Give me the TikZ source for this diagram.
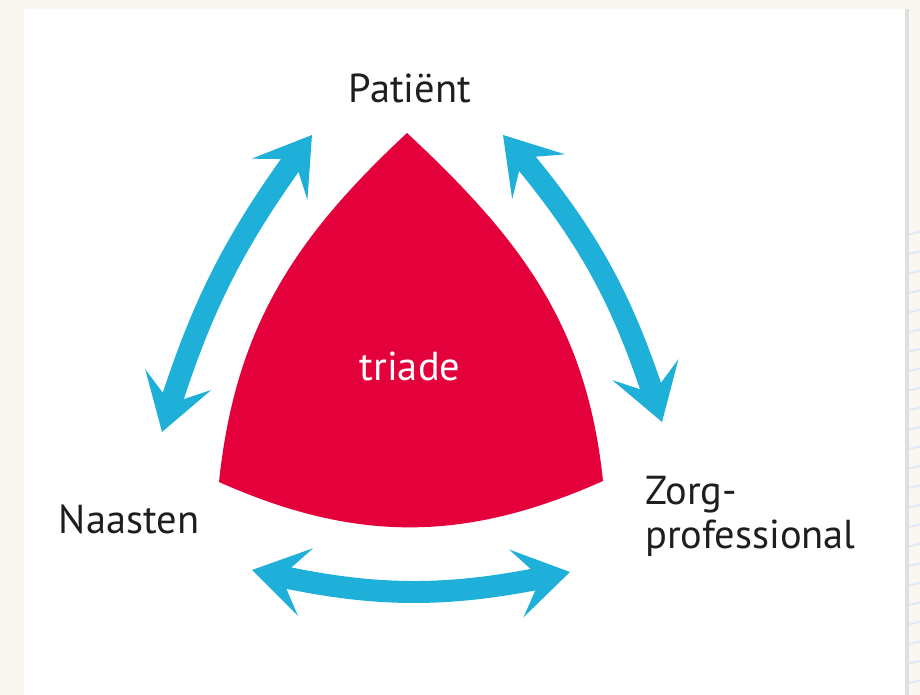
\documentclass[tikz,border=0pt]{standalone}
\usepackage{fontspec}
\setmainfont{PT Sans}
\usetikzlibrary{arrows.meta,bending}
\definecolor{cream}{RGB}{250,247,241}
\definecolor{triblue}{RGB}{30,176,216}
\definecolor{trired}{RGB}{228,0,58}
\definecolor{faintblue}{RGB}{226,233,246}
\definecolor{ink}{RGB}{30,30,30}

\begin{document}
\begin{tikzpicture}[x=0.02cm, y=0.02cm,
	lbl/.style={text=ink, font=\fontsize{23}{25}\selectfont, inner sep=0pt},
	duo/.style={triblue, line width=12.5pt,
		{Stealth[length=31pt,width=39pt,inset=14pt]}-{Stealth[length=31pt,width=39pt,inset=14pt]}}]
	\useasboundingbox (0,0) rectangle (920,695);
	\fill[cream] (0,0) rectangle (920,695);
	\foreach \k in {0,...,23}
		\draw[faintblue, line width=1.2pt] (906,460-19.5*\k) -- (920,463-19.5*\k);
	\fill[gray!25] (905,0) rectangle (909,686);
	\fill[white] (24,0) rectangle (905,686);
	\coordinate (apex) at (407,562);
	\coordinate (left) at (219,213);
	\coordinate (right) at (603,214);
	\fill[trired] (apex) to[out=223,in=84] (left) to[out=-24,in=204] (right) to[out=96,in=317] (apex) -- cycle;
	\node[lbl] (pat) at (410,607) {Patiënt};
	\node[lbl, text=white] (tri) at (410,329) {triade};
	\node[lbl] (naa) at (129,176) {Naasten};
	\node[lbl, align=left, anchor=north west] (zorg) at (645,219) {Zorg-\\professional};
	\coordinate (lt) at (312,560);
	\coordinate (lb) at (162,263);
	\coordinate (rt) at (503,560);
	\coordinate (rb) at (662,273);
	\coordinate (bl) at (252,125);
	\coordinate (br) at (570,123);
	\draw[duo] (lb) to[bend left=10] (lt);
	\draw[duo] (rt) to[bend left=12] (rb);
	\draw[duo] (bl) to[bend right=13] (br);
\end{tikzpicture}
\end{document}
